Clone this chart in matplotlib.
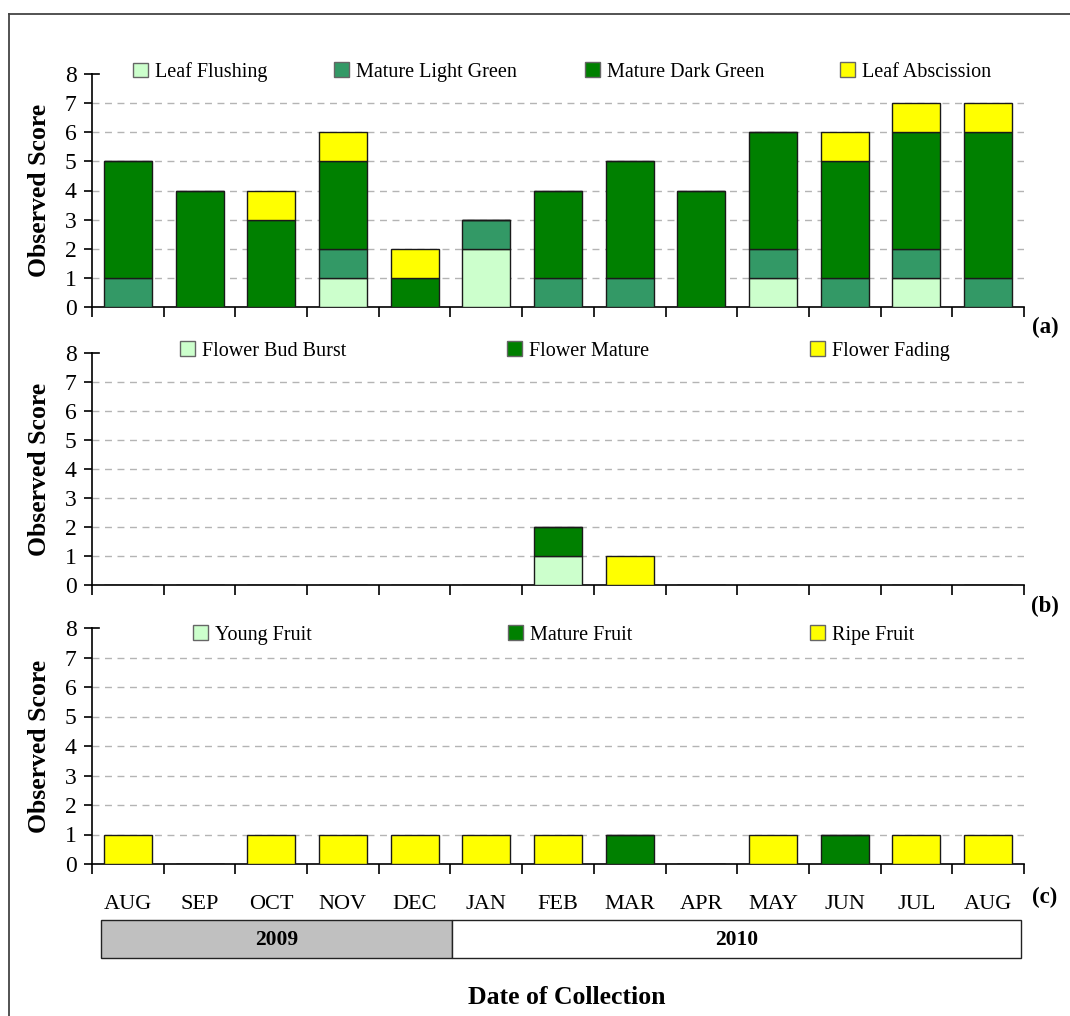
import matplotlib
matplotlib.use("Agg")
import matplotlib.pyplot as plt
from matplotlib.patches import Rectangle
from matplotlib.lines import Line2D
import numpy as np

plt.rcParams['font.family'] = ['Liberation Serif', 'DejaVu Serif']

months = ["AUG", "SEP", "OCT", "NOV", "DEC", "JAN", "FEB", "MAR", "APR",
          "MAY", "JUN", "JUL", "AUG"]

# (a) leaf phenology
leaf_flushing = [0, 0, 0, 1, 0, 2, 0, 0, 0, 1, 0, 1, 0]
mature_light_green = [1, 0, 0, 1, 0, 1, 1, 1, 0, 1, 1, 1, 1]
mature_dark_green = [4, 4, 3, 3, 1, 0, 3, 4, 4, 4, 4, 4, 5]
leaf_abscission = [0, 0, 1, 1, 1, 0, 0, 0, 0, 0, 1, 1, 1]

# (b) flowering
flower_bud_burst = [0, 0, 0, 0, 0, 0, 1, 0, 0, 0, 0, 0, 0]
flower_mature = [0, 0, 0, 0, 0, 0, 1, 0, 0, 0, 0, 0, 0]
flower_fading = [0, 0, 0, 0, 0, 0, 0, 1, 0, 0, 0, 0, 0]

# (c) fruiting
young_fruit = [0, 0, 0, 0, 0, 0, 0, 0, 0, 0, 0, 0, 0]
mature_fruit = [0, 0, 0, 0, 0, 0, 0, 1, 0, 0, 1, 0, 0]
ripe_fruit = [1, 0, 1, 1, 1, 1, 1, 0, 0, 1, 0, 1, 1]

years = ["2009", "2010"]

C_PALE = "#ccffcc"
C_LIGHT = "#339966"
C_DARK = "#008000"
C_YELLOW = "#ffff00"

W, H = 1070, 1016
fig = plt.figure(figsize=(W / 100, H / 100), dpi=100)


def fx(px):
    return px / W


def fy(py):
    return 1 - py / H


# outer frame of the figure
fig.add_artist(Line2D([fx(9), fx(9)], [fy(14), 0], color="#444444", lw=1.3,
                      transform=fig.transFigure))
fig.add_artist(Line2D([fx(9), 1], [fy(14), fy(14)], color="#444444", lw=1.3,
                      transform=fig.transFigure))

left, right = fx(92), fx(1024)
panels = [(74, 307), (353, 585), (628, 864)]
axes = []
for top, bot in panels:
    ax = fig.add_axes([left, fy(bot), right - left, fy(top) - fy(bot)])
    axes.append(ax)

x = np.arange(len(months))
bw = 0.67


def style_axis(ax):
    ax.set_xlim(-0.5, len(months) - 0.5)
    ax.set_ylim(0, 8)
    ax.set_yticks(range(0, 9))
    ax.tick_params(axis="y", direction="out", length=6, width=1.2,
                   labelsize=17, pad=5)
    # small cap at the top of the value axis
    ax.plot([0, 0.007], [8, 8], transform=ax.get_yaxis_transform(),
            color="black", lw=1.2, clip_on=False)
    for yv in range(1, 8):
        ax.axhline(yv, color="#b4b4b4", lw=1.0, ls=(0, (5, 4)), zorder=0)
    ax.spines["top"].set_visible(False)
    ax.spines["right"].set_visible(False)
    ax.spines["left"].set_linewidth(1.2)
    ax.spines["bottom"].set_linewidth(1.2)
    ax.set_xticks(np.arange(-0.5, len(months), 1.0), minor=True)
    ax.tick_params(axis="x", which="minor", direction="out", length=7,
                   width=1.2)
    ax.set_xticks(x)
    ax.tick_params(axis="x", which="major", length=0)
    ax.set_xticklabels([])
    ax.set_ylabel("Observed Score", fontsize=18.5, fontweight="bold")
    ax.yaxis.set_label_coords(-0.044, 0.5)


def stacked(ax, series, colors):
    bottom = np.zeros(len(months))
    for vals, col in zip(series, colors):
        vals = np.asarray(vals, dtype=float)
        ax.bar(x, vals, bw, bottom=bottom, color=col, edgecolor="#1a1a1a",
               linewidth=1.0, zorder=3)
        bottom += vals


def entry_legend(label, color, xpix, ypix):
    h = Rectangle((0, 0), 1, 1, facecolor=color, edgecolor="#666666", lw=1.0)
    fig.legend(handles=[h], labels=[label], loc="center left",
               bbox_to_anchor=(fx(xpix), fy(ypix)),
               bbox_transform=fig.transFigure, frameon=False,
               fontsize=14.5, handlelength=0.75, handleheight=0.75,
               handletextpad=0.35, borderpad=0, borderaxespad=0)


ax_a, ax_b, ax_c = axes
for ax in axes:
    style_axis(ax)

stacked(ax_a, [leaf_flushing, mature_light_green, mature_dark_green,
               leaf_abscission], [C_PALE, C_LIGHT, C_DARK, C_YELLOW])
stacked(ax_b, [flower_bud_burst, flower_mature, flower_fading],
        [C_PALE, C_DARK, C_YELLOW])
stacked(ax_c, [young_fruit, mature_fruit, ripe_fruit],
        [C_PALE, C_DARK, C_YELLOW])

legend_a = [("Leaf Flushing", C_PALE, 133), ("Mature Light Green", C_LIGHT, 334),
            ("Mature Dark Green", C_DARK, 585), ("Leaf Abscission", C_YELLOW, 840)]
legend_b = [("Flower Bud Burst", C_PALE, 180), ("Flower Mature", C_DARK, 507),
            ("Flower Fading", C_YELLOW, 810)]
legend_c = [("Young Fruit", C_PALE, 193), ("Mature Fruit", C_DARK, 508),
            ("Ripe Fruit", C_YELLOW, 810)]
for entries, ypix in [(legend_a, 72), (legend_b, 351), (legend_c, 635)]:
    for label, col, xp in entries:
        entry_legend(label, col, xp, ypix)

# month labels below the bottom panel
ax_c.set_xticklabels(months, fontsize=16)
ax_c.tick_params(axis="x", which="major", pad=22)

for lab, ypix in [("(a)", 327), ("(b)", 606), ("(c)", 897)]:
    fig.text(fx(1045), fy(ypix), lab, fontsize=16.5, fontweight="bold",
             ha="center", va="center")

# year band
band_l, band_r = 101, 1021
band_t, band_b = 920, 958
split = 452
fig.add_artist(Rectangle((fx(band_l), fy(band_b)), fx(split) - fx(band_l),
                         fy(band_t) - fy(band_b), facecolor="#c0c0c0",
                         edgecolor="#222222", lw=1.0,
                         transform=fig.transFigure))
fig.add_artist(Rectangle((fx(split), fy(band_b)), fx(band_r) - fx(split),
                         fy(band_t) - fy(band_b), facecolor="white",
                         edgecolor="#222222", lw=1.0,
                         transform=fig.transFigure))
fig.text(fx((band_l + split) / 2), fy(940), years[0], fontsize=15.5,
         fontweight="bold", ha="center", va="center")
fig.text(fx((split + band_r) / 2), fy(940), years[1], fontsize=15.5,
         fontweight="bold", ha="center", va="center")

fig.text(fx(567), fy(998), "Date of Collection", fontsize=18.5,
         fontweight="bold", ha="center", va="center")

fig.savefig("out.png", dpi=100)
